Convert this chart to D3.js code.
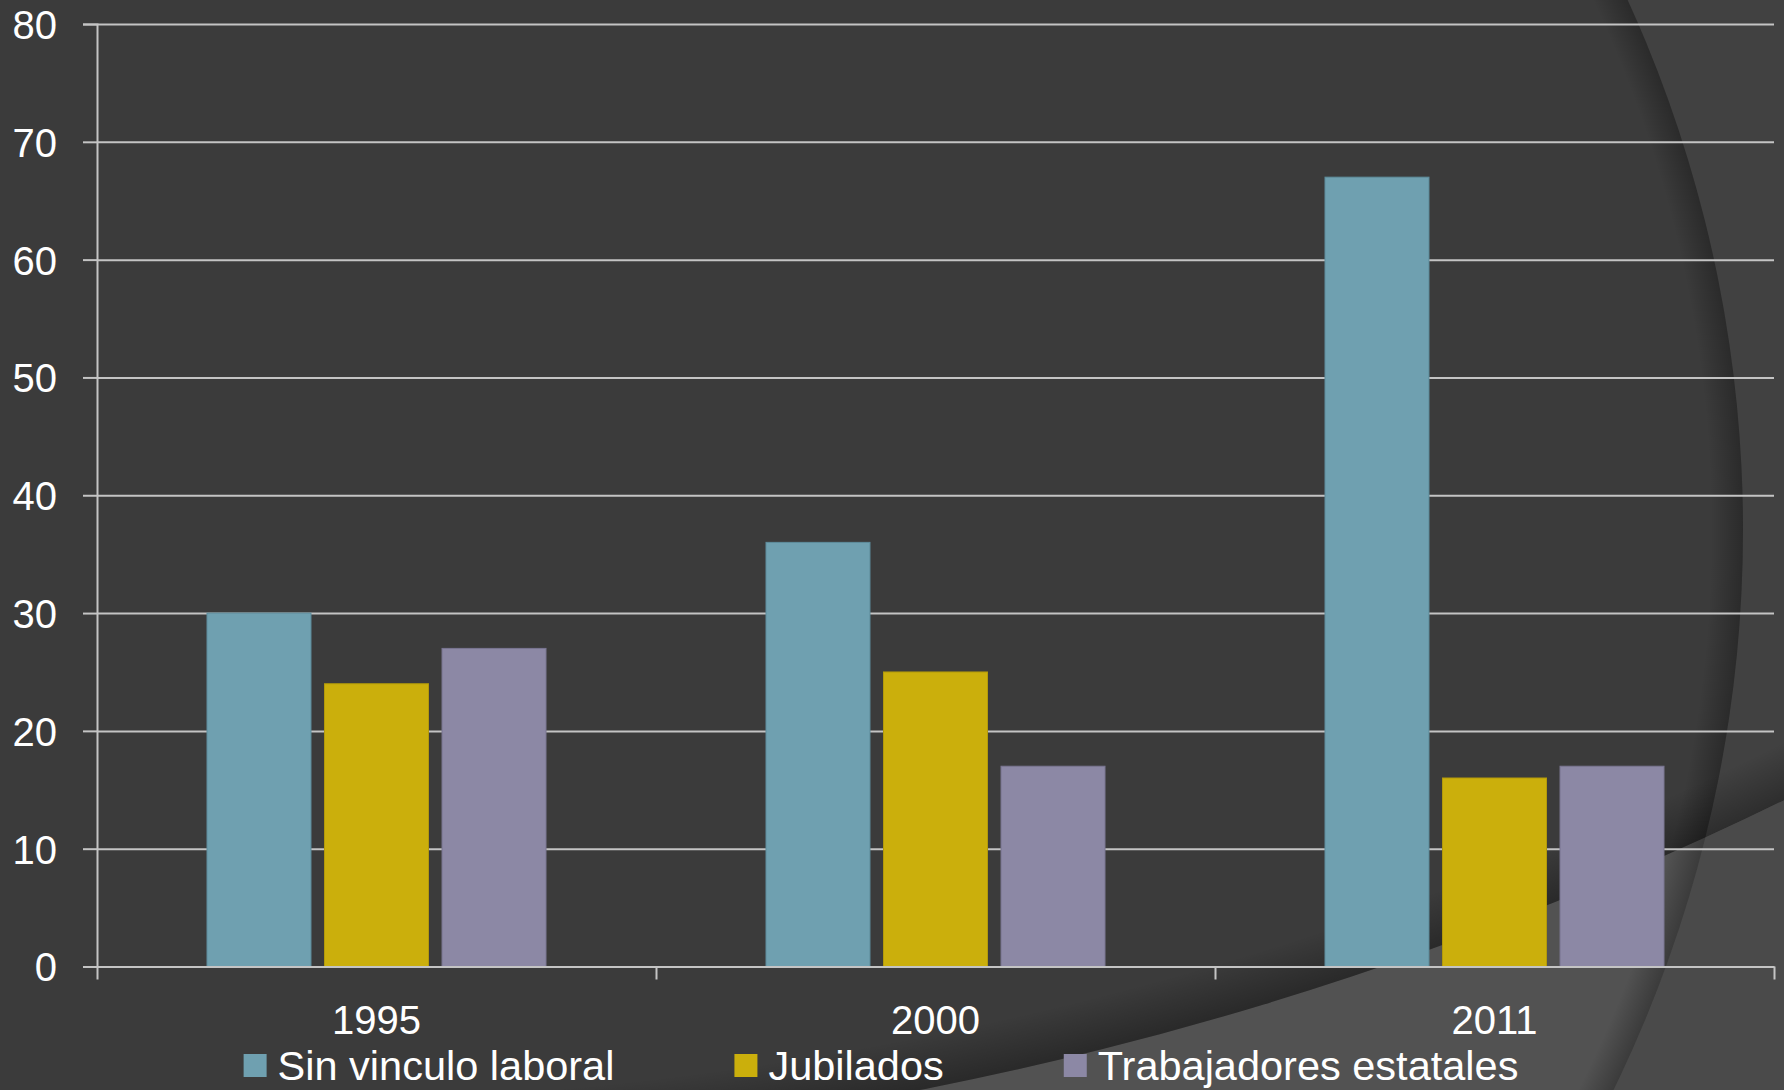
<!DOCTYPE html>
<html>
<head>
<meta charset="utf-8">
<script src="https://cdn.jsdelivr.net/npm/d3@7"></script>
<style>
  html, body { margin: 0; padding: 0; background: #3b3b3b; }
  svg { display: block; }
  text { font-family: "Liberation Sans", Arial, sans-serif; fill: #ffffff; }
</style>
</head>
<body>
<svg id="chart" width="1784" height="1090"></svg>
<script>
// ---- data ----
const categories = ["1995", "2000", "2011"];
const seriesNames = ["Sin vinculo laboral", "Jubilados", "Trabajadores estatales"];
const sinVinculo = [30, 36, 67];
const jubilados = [24, 25, 16];
const trabajadores = [27, 17, 17];
const yTicks = [0, 10, 20, 30, 40, 50, 60, 70, 80];
const seriesColors = ["#6fa0b0", "#cbaf0c", "#8c88a5"];
const seriesStroke = ["#5e8d9c", "#b39a0a", "#7a7692"];

const values = [sinVinculo, jubilados, trabajadores];

const W = 1784, H = 1090;
const svg = d3.select("#chart");
const defs = svg.append("defs");

// ---- background (theme decoration) ----
const c1 = {x: 468, y: 530, r: 1275};   // big arc on the right
const c2 = {x: 248, y: -2347, r: 3502}; // curve bounding the lighter bottom band

svg.append("rect").attr("width", W).attr("height", H).attr("fill", "#3b3b3b");

const circlePath = c => `M${c.x - c.r},${c.y}a${c.r},${c.r} 0 1,0 ${2*c.r},0a${c.r},${c.r} 0 1,0 ${-2*c.r},0Z`;
const rectPath = `M0,0H${W}V${H}H0Z`;

defs.append("clipPath").attr("id", "inC2").append("path").attr("d", circlePath(c2));
defs.append("clipPath").attr("id", "outC2").append("path")
  .attr("d", rectPath + circlePath(c2)).attr("clip-rule", "evenodd");

// outside circle 1 in dark area
svg.append("path").attr("d", rectPath + circlePath(c1)).attr("fill-rule", "evenodd")
  .attr("fill", "#414141").attr("clip-path", "url(#inC2)");

// light band (outside circle 2)
svg.append("path").attr("d", rectPath + circlePath(c2)).attr("fill-rule", "evenodd")
  .attr("fill", "#525252");
svg.append("path").attr("d", rectPath + circlePath(c1)).attr("fill-rule", "evenodd")
  .attr("fill", "#4a4a4a").attr("clip-path", "url(#outC2)");

// shadows inside the edges
const g1 = defs.append("radialGradient").attr("id", "sh1").attr("gradientUnits", "userSpaceOnUse")
  .attr("cx", c1.x).attr("cy", c1.y).attr("r", c1.r);
g1.append("stop").attr("offset", 0.975).attr("stop-color", "#000").attr("stop-opacity", 0);
g1.append("stop").attr("offset", 1).attr("stop-color", "#000").attr("stop-opacity", 0.28);
svg.append("circle").attr("cx", c1.x).attr("cy", c1.y).attr("r", c1.r).attr("fill", "url(#sh1)");

const g2 = defs.append("radialGradient").attr("id", "sh2").attr("gradientUnits", "userSpaceOnUse")
  .attr("cx", c2.x).attr("cy", c2.y).attr("r", c2.r);
g2.append("stop").attr("offset", 0.985).attr("stop-color", "#000").attr("stop-opacity", 0);
g2.append("stop").attr("offset", 1).attr("stop-color", "#000").attr("stop-opacity", 0.3);
svg.append("circle").attr("cx", c2.x).attr("cy", c2.y).attr("r", c2.r).attr("fill", "url(#sh2)");

// ---- scales ----
const plot = {left: 97, right: 1774, top: 24, bottom: 966.5};
const y = d3.scaleLinear().domain([0, 80]).range([plot.bottom, plot.top]);
const x0 = d3.scaleBand().domain(categories).range([plot.left, plot.right]).padding(0);
const x1 = d3.scaleBand().domain(seriesNames).range([0, x0.bandwidth()])
  .paddingInner(0.115).paddingOuter(0.936);

const gridColor = "#c4c4c4";

// gridlines
const grid = svg.append("g").attr("transform", `translate(${plot.left},0)`)
  .call(d3.axisLeft(y).tickValues(yTicks).tickSize(-(plot.right - plot.left)).tickFormat(""));
grid.select(".domain").remove();
grid.selectAll("line").attr("stroke", gridColor).attr("stroke-width", 2);

// bars
const groups = svg.append("g").selectAll("g").data(categories).join("g")
  .attr("transform", c => `translate(${x0(c)},0)`);
groups.selectAll("rect")
  .data((c, i) => seriesNames.map((s, j) => ({s, j, v: values[j][i]})))
  .join("rect")
  .attr("x", d => x1(d.s))
  .attr("width", x1.bandwidth())
  .attr("y", d => y(d.v))
  .attr("height", d => y(0) - y(d.v))
  .attr("fill", d => seriesColors[d.j])
  .attr("stroke", d => seriesStroke[d.j])
  .attr("stroke-width", 1);

// y axis
const yAxis = svg.append("g").attr("transform", `translate(${plot.left},0)`)
  .call(d3.axisLeft(y).tickValues(yTicks).tickSize(14).tickPadding(26));
yAxis.select(".domain").attr("stroke", gridColor).attr("stroke-width", 2);
yAxis.selectAll("line").attr("stroke", gridColor).attr("stroke-width", 2);
yAxis.selectAll("text").attr("font-size", 40).attr("fill", "#fff")
  .attr("font-family", "Liberation Sans, Arial, sans-serif").attr("dy", "0.36em");

// x axis: line + ticks at category boundaries
const xEdge = d3.scaleLinear().domain([0, categories.length]).range([plot.left, plot.right]);
const xAxis = svg.append("g").attr("transform", `translate(0,${plot.bottom})`)
  .call(d3.axisBottom(xEdge).tickValues(d3.range(categories.length + 1)).tickSize(13).tickFormat("").tickSizeOuter(0));
xAxis.select(".domain").attr("stroke", gridColor).attr("stroke-width", 2);
xAxis.selectAll("line").attr("stroke", gridColor).attr("stroke-width", 2);

// category labels
const xLab = svg.append("g").attr("transform", `translate(0,${plot.bottom})`)
  .call(d3.axisBottom(x0).tickSize(0));
xLab.select(".domain").remove();
xLab.selectAll("text").attr("font-size", 40).attr("fill", "#fff")
  .attr("font-family", "Liberation Sans, Arial, sans-serif")
  .attr("y", 67.5).attr("dy", 0);

// legend
const legend = svg.append("g");
const items = legend.selectAll("g").data(seriesNames).join("g");
items.append("rect").attr("width", 23).attr("height", 23).attr("y", 1054)
  .attr("fill", (d, i) => seriesColors[i]);
items.append("text").attr("x", 34).attr("y", 1080).attr("font-size", 41.5).text(d => d);
let widths = [];
items.each(function () {
  widths.push(34 + d3.select(this).select("text").node().getComputedTextLength());
});
const gap = 120;
const total = d3.sum(widths) + gap * (widths.length - 1);
let cx = 881 - total / 2;
items.attr("transform", (d, i) => {
  const t = `translate(${cx},0)`;
  cx += widths[i] + gap;
  return t;
});
</script>
</body>
</html>
